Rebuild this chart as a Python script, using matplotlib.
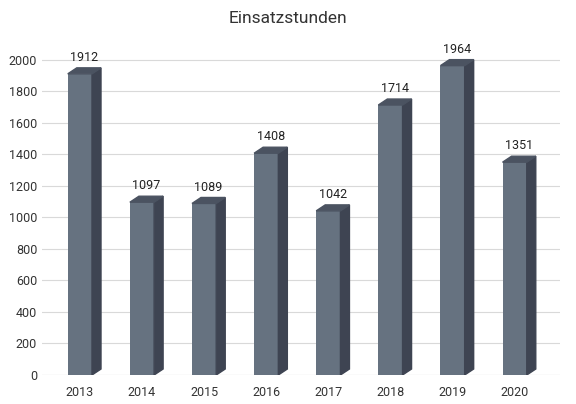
import matplotlib
matplotlib.use("Agg")
import matplotlib.pyplot as plt
from matplotlib.patches import Polygon

years = ["2013", "2014", "2015", "2016", "2017", "2018", "2019", "2020"]
hours = [1912, 1097, 1089, 1408, 1042, 1714, 1964, 1351]

plt.rcParams['font.family'] = ['Roboto', 'DejaVu Sans']

fig = plt.figure(figsize=(5.76, 4.04), dpi=100)
ax = fig.add_axes([42 / 576, 29 / 404, 518 / 576, 330 / 404])

width = 0.39
dx, dy = 0.145, 38  # fake depth of the 3D bars
front, side, top = "#667280", "#3e4452", "#4b5361"

x = list(range(len(years)))
ax.bar(x, hours, width=width, color=front, zorder=3)
for xi, h in zip(x, hours):
    l, r = xi - width / 2, xi + width / 2
    ax.add_patch(Polygon([(r, 0), (r + dx, dy), (r + dx, h + dy), (r, h)],
                         closed=True, color=side, zorder=3))
    ax.add_patch(Polygon([(l, h), (l + dx, h + dy), (r + dx, h + dy), (r, h)],
                         closed=True, color=top, zorder=3))
    ax.text(xi + dx / 2, h + dy + 25, str(h), ha="center", va="bottom",
            fontsize=9, color="#222222", zorder=4)

ax.set_xlim(-0.61, 7.73)
ax.set_ylim(0, 2095)
ax.set_yticks(range(0, 2001, 200))
ax.set_xticks(x)
ax.set_xticklabels(years)
ax.grid(axis="y", color="#d9d9d9", linewidth=0.8, zorder=0)
ax.tick_params(length=0, labelsize=9, colors="#333333")
ax.tick_params(axis="x", pad=8)
for s in ax.spines.values():
    s.set_visible(False)
ax.axhline(0, color="#d9d9d9", linewidth=0.8, zorder=1)

fig.text(0.5, 0.955, "Einsatzstunden", ha="center", va="center",
         fontsize=12.5, color="#333333")

fig.savefig("out.png", dpi=100)
